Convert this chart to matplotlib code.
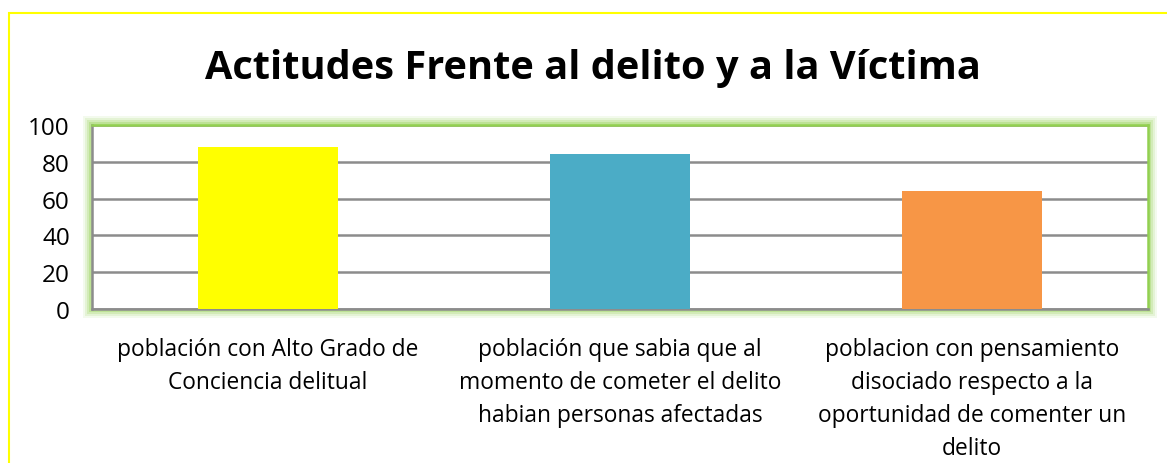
import matplotlib.pyplot as plt
from matplotlib.patches import Rectangle

categories = [
    "población con Alto Grado de\nConciencia delitual",
    "población que sabia que al\nmomento de cometer el delito\nhabian personas afectadas",
    "poblacion con pensamiento\ndisociado respecto a la\noportunidad de comenter un\ndelito",
]
values = [88, 84, 64]
colors = ["#FFFF00", "#4BACC6", "#F79646"]
yticks = [0, 20, 40, 60, 80, 100]

plt.rcParams["font.family"] = ["Open Sans", "DejaVu Sans"]

W, H = 1167, 464
fig = plt.figure(figsize=(W / 100, H / 100), dpi=100)

# outer yellow chart border (runs off the right/bottom edge)
fig.patches.append(Rectangle((9 / W, -0.02), 1.02, 1 - 14 / H + 0.02,
                             transform=fig.transFigure, fill=False,
                             edgecolor="#FFFF00", linewidth=1.5))

x0, x1, y0, y1 = 92, 1148, 126, 310  # plot area in pixels (top-left origin)

# soft green glow around the plot area
for pad, alpha in [(9, 0.10), (7, 0.15), (5, 0.22), (3, 0.32)]:
    fig.patches.append(Rectangle(((x0 - pad) / W, 1 - (y1 + pad) / H),
                                 (x1 - x0 + 2 * pad) / W, (y1 - y0 + 2 * pad) / H,
                                 transform=fig.transFigure, facecolor="#92D050",
                                 edgecolor="none", alpha=alpha, zorder=0))

ax = fig.add_axes([x0 / W, 1 - y1 / H, (x1 - x0) / W, (y1 - y0) / H])
ax.set_zorder(2)
xs = range(len(values))
ax.bar(xs, values, width=0.40, color=colors, zorder=3)

ax.set_xlim(-0.5, len(values) - 0.5)
ax.set_ylim(0, 100)
ax.set_yticks(yticks)
ax.tick_params(axis="y", length=0, labelsize=17.5, pad=16)
ax.tick_params(axis="x", length=0, labelsize=16.4, pad=20)
ax.set_xticks(list(xs))
ax.set_xticklabels(categories, linespacing=1.5)
ax.grid(axis="y", color="#8C8C8C", linewidth=1.8, zorder=0)

for side in ["top", "right", "left", "bottom"]:
    ax.spines[side].set_linewidth(1.8)
ax.spines["top"].set_color("#92D050")
ax.spines["right"].set_color("#92D050")
ax.spines["left"].set_color("#8C8C8C")
ax.spines["bottom"].set_color("#8C8C8C")

fig.text(593 / W, 1 - 68 / H, "Actitudes Frente al delito y a la Víctima",
         ha="center", va="center", fontsize=28.6, fontweight="bold")

fig.savefig("out.png", dpi=100)
